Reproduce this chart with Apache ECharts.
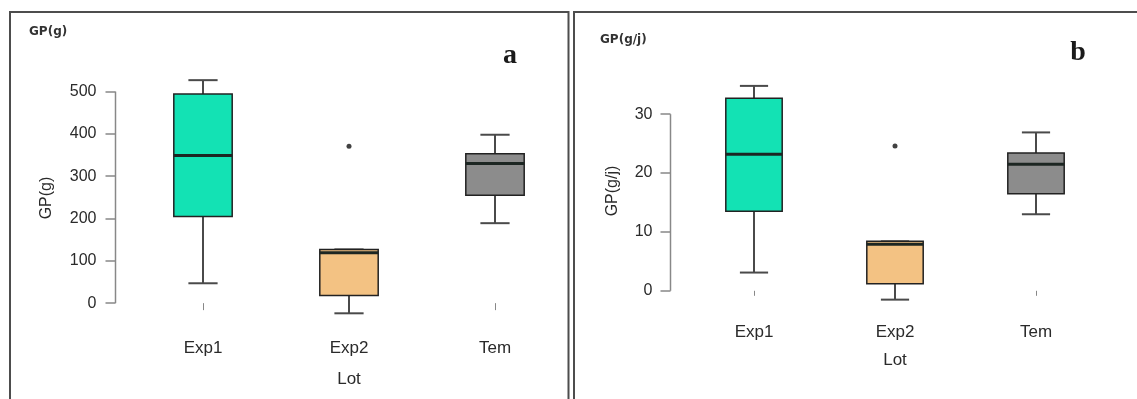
<!DOCTYPE html>
<html><head><meta charset="utf-8">
<script src="https://cdn.jsdelivr.net/npm/echarts@6/dist/echarts.min.js"></script>
<style>html,body{margin:0;padding:0;background:#fff}#c{width:1137px;height:399px}</style>
</head><body><div id="c"></div>
<script>
const categories = ['Exp1', 'Exp2', 'Tem'];
// each box: [min, Q1, median, Q3, max]
const boxA = [[47, 205, 349, 494, 527], [-24, 18, 119, 127, 127], [189, 255, 330, 353, 398]];
const outliersA = [[1, 371]];
const boxB = [[3.1, 13.5, 23.2, 32.7, 34.8], [-1.5, 1.2, 7.9, 8.4, 8.4], [13.0, 16.5, 21.5, 23.4, 26.9]];
const outliersB = [[1, 24.6]];
const ticksA = [0, 100, 200, 300, 400, 500];
const ticksB = [0, 10, 20, 30];
const fills = ['#13E2B4', '#F3C283', '#8C8C8C'];

const FONT = 'Liberation Sans, Arial, sans-serif';
const TXT = '#2a2a2a';

function renderBox(params, api) {
  const i = api.value(0);
  const cx = api.coord([i, 0])[0];
  const band = api.size([1, 0])[0];
  const bw = band * 0.4, cw = bw * 0.5;
  const y = k => api.coord([i, api.value(k)])[1];
  const ymin = y(1), yq1 = y(2), ymed = y(3), yq3 = y(4), ymax = y(5);
  const ws = { stroke: '#4a4a4a', lineWidth: 2 };
  return { type: 'group', children: [
    { type: 'line', shape: { x1: cx, y1: yq3, x2: cx, y2: ymax }, style: ws },
    { type: 'line', shape: { x1: cx, y1: yq1, x2: cx, y2: ymin }, style: ws },
    { type: 'line', shape: { x1: cx - cw / 2, y1: ymax, x2: cx + cw / 2, y2: ymax }, style: ws },
    { type: 'line', shape: { x1: cx - cw / 2, y1: ymin, x2: cx + cw / 2, y2: ymin }, style: ws },
    { type: 'rect', shape: { x: cx - bw / 2, y: yq3, width: bw, height: yq1 - yq3 }, style: { fill: fills[i], stroke: '#222', lineWidth: 1.5 } },
    { type: 'line', shape: { x1: cx - bw / 2, y1: ymed, x2: cx + bw / 2, y2: ymed }, style: { stroke: '#1c2622', lineWidth: 3 } }
  ]};
}
function axisLineRenderer(offset) {
  return function (params, api) {
    const x = params.coordSys.x - offset;
    const y0 = api.coord([0, api.value(1)])[1], y1 = api.coord([0, api.value(2)])[1];
    return { type: 'line', shape: { x1: x, y1: y0, x2: x, y2: y1 }, style: { stroke: '#888', lineWidth: 1.5 } };
  };
}

const offA = 14.5, offB = 13;
function yAxisCfg(idx, min, max, off, ticks, name, margin, gap) {
  return {
    gridIndex: idx, type: 'value', min: min, max: max, offset: off,
    splitLine: { show: false }, axisLine: { show: false },
    axisTick: { show: true, length: 10, customValues: ticks, lineStyle: { color: '#888', width: 1.5 } },
    axisLabel: { customValues: ticks, margin: margin, fontSize: 16, color: TXT, fontFamily: FONT },
    name: name, nameLocation: 'middle', nameGap: gap,
    nameTextStyle: { fontSize: 16, color: TXT, fontFamily: FONT }
  };
}
function xAxisCfg(idx, tickLen, margin, gap) {
  return {
    gridIndex: idx, type: 'category', data: categories,
    axisLine: { show: false },
    axisTick: { show: true, alignWithLabel: true, length: tickLen, lineStyle: { color: '#888', width: 1 } },
    axisLabel: { margin: margin, fontSize: 17, color: TXT, fontFamily: FONT },
    name: 'Lot', nameLocation: 'middle', nameGap: gap,
    nameTextStyle: { fontSize: 17, color: TXT, fontFamily: FONT }
  };
}

const chart = echarts.init(document.getElementById('c'));
chart.setOption({
  animation: false,
  backgroundColor: '#fff',
  grid: [
    { left: 130, top: 70, width: 438, height: 256 },
    { left: 683.5, top: 70, width: 423, height: 242 }
  ],
  xAxis: [xAxisCfg(0, 7, 14, 45), xAxisCfg(1, 5, 12, 40)],
  yAxis: [
    yAxisCfg(0, -54, 551, offA, ticksA, 'GP(g)', 19, 61),
    yAxisCfg(1, -3.6, 37.5, offB, ticksB, 'GP(g/j)', 18, 50)
  ],
  graphic: [
    { type: 'rect', shape: { x: 10, y: 12, width: 558.5, height: 500 }, style: { fill: 'none', stroke: '#4d4d4d', lineWidth: 2 }, silent: true },
    { type: 'rect', shape: { x: 574, y: 12, width: 600, height: 500 }, style: { fill: 'none', stroke: '#4d4d4d', lineWidth: 2 }, silent: true },
    { type: 'text', x: 29, y: 32, style: { text: 'GP(g)', font: 'bold 12px DejaVu Sans', fill: '#333', verticalAlign: 'middle' } },
    { type: 'text', x: 600, y: 40, style: { text: 'GP(g/j)', font: 'bold 12px DejaVu Sans', fill: '#333', verticalAlign: 'middle' } },
    { type: 'text', x: 510, y: 56, style: { text: 'a', font: 'bold 28px Liberation Serif', fill: '#1a1a1a', align: 'center', verticalAlign: 'middle' } },
    { type: 'text', x: 1078, y: 53, style: { text: 'b', font: 'bold 28px Liberation Serif', fill: '#1a1a1a', align: 'center', verticalAlign: 'middle' } }
  ],
  series: [
    { type: 'custom', xAxisIndex: 0, yAxisIndex: 0, renderItem: axisLineRenderer(offA), data: [[0, ticksA[0], ticksA[ticksA.length - 1]]], encode: { x: 0, y: [1, 2] }, silent: true },
    { type: 'custom', xAxisIndex: 0, yAxisIndex: 0, renderItem: renderBox, data: boxA.map((b, i) => [i].concat(b)), encode: { x: 0, y: [1, 2, 3, 4, 5] } },
    { type: 'scatter', xAxisIndex: 0, yAxisIndex: 0, data: outliersA, symbolSize: 5, itemStyle: { color: '#111' } },
    { type: 'custom', xAxisIndex: 1, yAxisIndex: 1, renderItem: axisLineRenderer(offB), data: [[0, ticksB[0], ticksB[ticksB.length - 1]]], encode: { x: 0, y: [1, 2] }, silent: true },
    { type: 'custom', xAxisIndex: 1, yAxisIndex: 1, renderItem: renderBox, data: boxB.map((b, i) => [i].concat(b)), encode: { x: 0, y: [1, 2, 3, 4, 5] } },
    { type: 'scatter', xAxisIndex: 1, yAxisIndex: 1, data: outliersB, symbolSize: 5, itemStyle: { color: '#111' } }
  ]
});
</script></body></html>
